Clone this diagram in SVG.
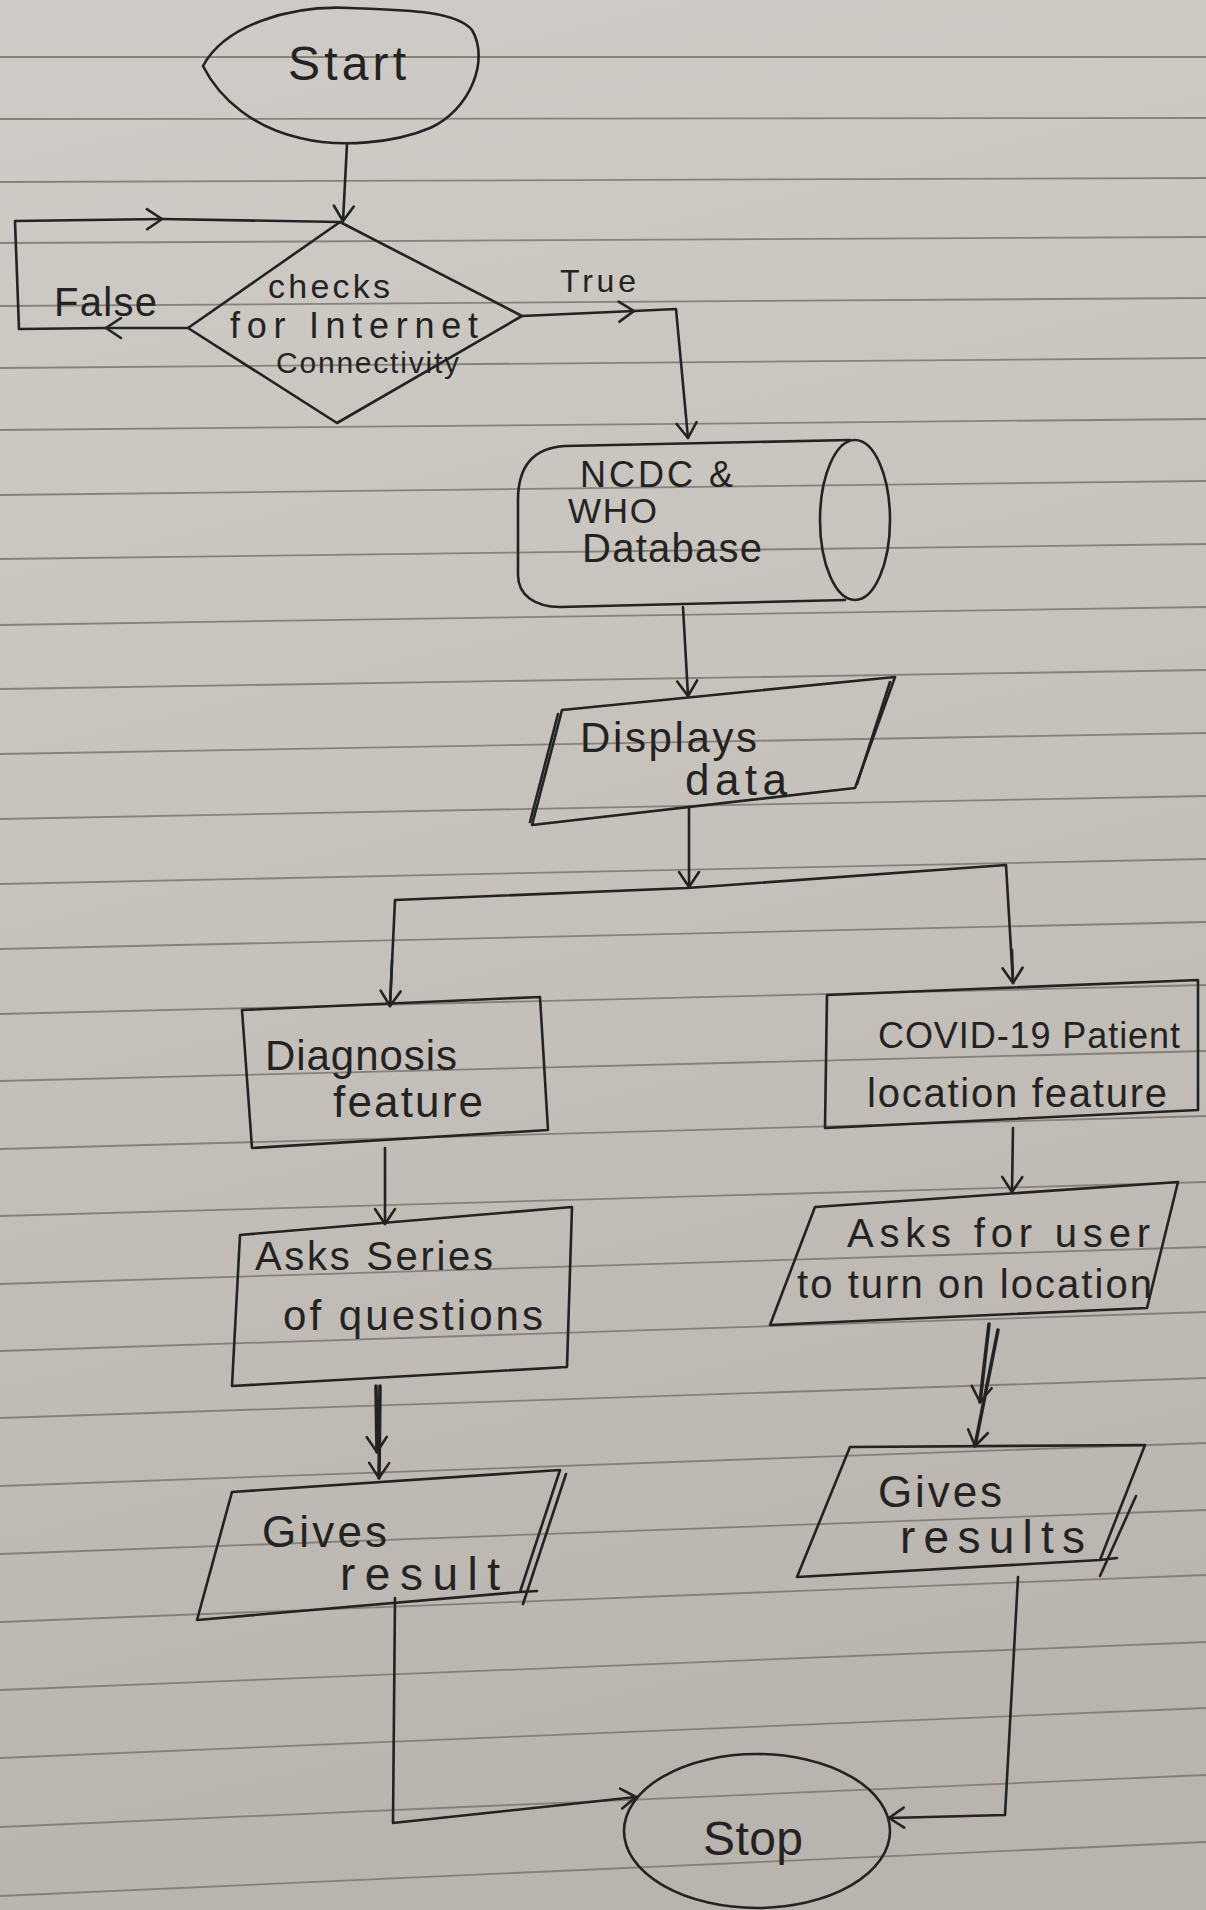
<svg xmlns="http://www.w3.org/2000/svg" width="1206" height="1910" viewBox="0 0 1206 1910">
  <defs>
    <linearGradient id="paper" x1="0" y1="0" x2="0.15" y2="1">
      <stop offset="0" stop-color="#cfcbc6"/>
      <stop offset="0.5" stop-color="#c6c2bb"/>
      <stop offset="1" stop-color="#b9b4ad"/>
    </linearGradient>
    <marker id="arrow" viewBox="-20 -14 24 28" markerWidth="24" markerHeight="28" refX="0" refY="0" orient="auto" markerUnits="userSpaceOnUse">
      <path d="M -15 -10 L 0 0 L -15 10" fill="none" stroke="#232323" stroke-width="2.6" stroke-linecap="round" stroke-linejoin="round"/>
    </marker>
    <style>
      .ink { fill: none; stroke: #232323; stroke-width: 2.6; stroke-linejoin: round; stroke-linecap: round; }
      .bold { stroke-width: 3.6; }
      .rule { stroke: #7b776f; stroke-width: 1.8; opacity: 0.85; }
      .lbl { font-family: "Liberation Sans", "DejaVu Sans", sans-serif; fill: #232323; }
    </style>
  </defs>

  <!-- paper -->
  <rect x="0" y="0" width="1206" height="1910" fill="url(#paper)"/>
  <g id="ruled-lines" class="rule">
    <line x1="0" y1="57" x2="1206" y2="57"/>
    <line x1="0" y1="119" x2="1206" y2="118"/>
    <line x1="0" y1="182" x2="1206" y2="178"/>
    <line x1="0" y1="243" x2="1206" y2="237"/>
    <line x1="0" y1="306" x2="1206" y2="298"/>
    <line x1="0" y1="368" x2="1206" y2="358"/>
    <line x1="0" y1="430" x2="1206" y2="419"/>
    <line x1="0" y1="495" x2="1206" y2="481"/>
    <line x1="0" y1="559" x2="1206" y2="544"/>
    <line x1="0" y1="625" x2="1206" y2="607"/>
    <line x1="0" y1="689" x2="1206" y2="670"/>
    <line x1="0" y1="754" x2="1206" y2="733"/>
    <line x1="0" y1="819" x2="1206" y2="796"/>
    <line x1="0" y1="884" x2="1206" y2="859"/>
    <line x1="0" y1="949" x2="1206" y2="922"/>
    <line x1="0" y1="1014" x2="1206" y2="985"/>
    <line x1="0" y1="1081" x2="1206" y2="1051"/>
    <line x1="0" y1="1149" x2="1206" y2="1116"/>
    <line x1="0" y1="1216" x2="1206" y2="1182"/>
    <line x1="0" y1="1284" x2="1206" y2="1247"/>
    <line x1="0" y1="1351" x2="1206" y2="1312"/>
    <line x1="0" y1="1418" x2="1206" y2="1378"/>
    <line x1="0" y1="1486" x2="1206" y2="1443"/>
    <line x1="0" y1="1554" x2="1206" y2="1510"/>
    <line x1="0" y1="1622" x2="1206" y2="1575"/>
    <line x1="0" y1="1690" x2="1206" y2="1642"/>
    <line x1="0" y1="1758" x2="1206" y2="1708"/>
    <line x1="0" y1="1827" x2="1206" y2="1775"/>
    <line x1="0" y1="1896" x2="1206" y2="1842"/>
  </g>

  <!-- connectors -->
  <g id="connectors" class="ink">
    <path d="M 347 144 L 343 221" marker-end="url(#arrow)"/>
    <!-- False loop -->
    <path d="M 188 328 L 106 328" marker-end="url(#arrow)"/>
    <path d="M 106 328 L 19 329 L 15 221 L 162 219" marker-end="url(#arrow)"/>
    <path d="M 162 219 L 340 222"/>
    <!-- True -->
    <path d="M 522 316 L 634 311" marker-end="url(#arrow)"/>
    <path d="M 634 311 L 676 309 L 688 438" marker-end="url(#arrow)"/>
    <!-- DB to display -->
    <path d="M 683 607 L 688 696" marker-end="url(#arrow)"/>
    <!-- display to branch -->
    <path d="M 689 807 L 689 887" marker-end="url(#arrow)"/>
    <path d="M 390 1006 L 395 900 L 687 888 L 1006 865 L 1013 983" />
    <path d="M 392 960 L 390 1006" marker-end="url(#arrow)"/>
    <path d="M 1012 950 L 1013 983" marker-end="url(#arrow)"/>
    <!-- Diagnosis to Asks -->
    <path d="M 385 1148 L 385 1224" marker-end="url(#arrow)"/>
    <!-- Asks to Gives (double) -->
    <path class="ink bold" d="M 376 1386 L 377 1452" marker-end="url(#arrow)"/>
    <path class="ink bold" d="M 380 1386 L 379 1478" marker-end="url(#arrow)"/>
    <!-- COVID to Asks for user -->
    <path d="M 1013 1128 L 1012 1192" marker-end="url(#arrow)"/>
    <!-- Asks for user to Gives (double) -->
    <path class="ink bold" d="M 989 1324 L 980 1402" marker-end="url(#arrow)"/>
    <path class="ink bold" d="M 998 1330 L 975 1446" marker-end="url(#arrow)"/>
    <!-- to Stop -->
    <path d="M 395 1598 L 393 1823 L 636 1797" marker-end="url(#arrow)"/>
    <path d="M 1018 1577 L 1005 1815 L 889 1818" marker-end="url(#arrow)"/>
  </g>

  <!-- nodes -->
  <g id="start">
    <path class="ink" d="M 203 66 C 225 25, 290 5, 350 8 C 400 10, 455 10, 472 30 C 490 60, 470 110, 430 128 C 395 143, 340 148, 300 138 C 255 128, 220 100, 203 66 Z"/>
    <text class="lbl" x="288" y="80" font-size="48" textLength="118" lengthAdjust="spacing">Start</text>
  </g>

  <g id="check-internet">
    <path class="ink" d="M 340 222 L 522 316 L 337 423 L 188 328 Z"/>
    <text class="lbl" x="268" y="298" font-size="34" textLength="122" lengthAdjust="spacing">checks</text>
    <text class="lbl" x="230" y="338" font-size="36" textLength="248" lengthAdjust="spacing">for Internet</text>
    <text class="lbl" x="276" y="373" font-size="30" textLength="183" lengthAdjust="spacing">Connectivity</text>
  </g>

  <g id="label-false">
    <text class="lbl" x="54" y="316" font-size="40" textLength="103" lengthAdjust="spacing">False</text>
  </g>
  <g id="label-true">
    <text class="lbl" x="560" y="292" font-size="32" textLength="76" lengthAdjust="spacing">True</text>
  </g>

  <g id="database">
    <path class="ink" d="M 850 440 L 565 446 C 530 448, 518 470, 518 500 L 518 575 C 518 595, 535 607, 560 607 L 845 600"/>
    <ellipse class="ink" cx="855" cy="520" rx="35" ry="80"/>
    <text class="lbl" x="580" y="487" font-size="36" textLength="153" lengthAdjust="spacing">NCDC &amp;</text>
    <text class="lbl" x="568" y="523" font-size="35" textLength="89" lengthAdjust="spacing">WHO</text>
    <text class="lbl" x="582" y="562" font-size="40" textLength="180" lengthAdjust="spacing">Database</text>
  </g>

  <g id="displays-data">
    <path class="ink" d="M 562 710 L 895 677 L 855 788 L 532 825 Z"/>
    <path class="ink" d="M 558 714 L 530 822 M 890 682 L 857 784"/>
    <text class="lbl" x="580" y="752" font-size="42" textLength="177" lengthAdjust="spacing">Displays</text>
    <text class="lbl" x="685" y="795" font-size="44" textLength="102" lengthAdjust="spacing">data</text>
  </g>

  <g id="diagnosis">
    <path class="ink" d="M 242 1010 L 540 997 L 548 1130 L 252 1148 Z"/>
    <text class="lbl" x="265" y="1070" font-size="42" textLength="192" lengthAdjust="spacing">Diagnosis</text>
    <text class="lbl" x="333" y="1117" font-size="44" textLength="150" lengthAdjust="spacing">feature</text>
  </g>

  <g id="asks-series">
    <path class="ink" d="M 240 1235 L 572 1207 L 567 1367 L 232 1386 Z"/>
    <text class="lbl" x="255" y="1270" font-size="40" textLength="238" lengthAdjust="spacing">Asks Series</text>
    <text class="lbl" x="283" y="1330" font-size="42" textLength="260" lengthAdjust="spacing">of questions</text>
  </g>

  <g id="gives-result-left">
    <path class="ink" d="M 232 1492 L 560 1470 L 520 1592 L 537 1591 M 520 1592 L 197 1620 L 232 1492"/>
    <path class="ink" d="M 566 1474 L 523 1604"/>
    <text class="lbl" x="262" y="1547" font-size="44" textLength="125" lengthAdjust="spacing">Gives</text>
    <text class="lbl" x="340" y="1590" font-size="46" textLength="160" lengthAdjust="spacing">result</text>
  </g>

  <g id="covid-location">
    <path class="ink" d="M 827 995 L 1198 980 L 1198 1110 L 825 1128 Z"/>
    <text class="lbl" x="878" y="1048" font-size="36" textLength="302" lengthAdjust="spacing">COVID-19 Patient</text>
    <text class="lbl" x="867" y="1107" font-size="40" textLength="300" lengthAdjust="spacing">location feature</text>
  </g>

  <g id="asks-location">
    <path class="ink" d="M 815 1207 L 1178 1182 L 1147 1308 L 770 1325 Z"/>
    <text class="lbl" x="847" y="1247" font-size="40" textLength="303" lengthAdjust="spacing">Asks for user</text>
    <text class="lbl" x="797" y="1298" font-size="40" textLength="355" lengthAdjust="spacing">to turn on location</text>
  </g>

  <g id="gives-result-right">
    <path class="ink" d="M 850 1447 L 1145 1445 L 1100 1560 L 1117 1558 M 1100 1560 L 797 1577 L 850 1447"/>
    <path class="ink" d="M 1136 1496 L 1100 1576"/>
    <text class="lbl" x="878" y="1507" font-size="44" textLength="124" lengthAdjust="spacing">Gives</text>
    <text class="lbl" x="900" y="1553" font-size="46" textLength="185" lengthAdjust="spacing">results</text>
  </g>

  <g id="stop">
    <ellipse class="ink" cx="757" cy="1831" rx="133" ry="77"/>
    <text class="lbl" x="703" y="1855" font-size="48" textLength="100" lengthAdjust="spacing">Stop</text>
  </g>
</svg>
